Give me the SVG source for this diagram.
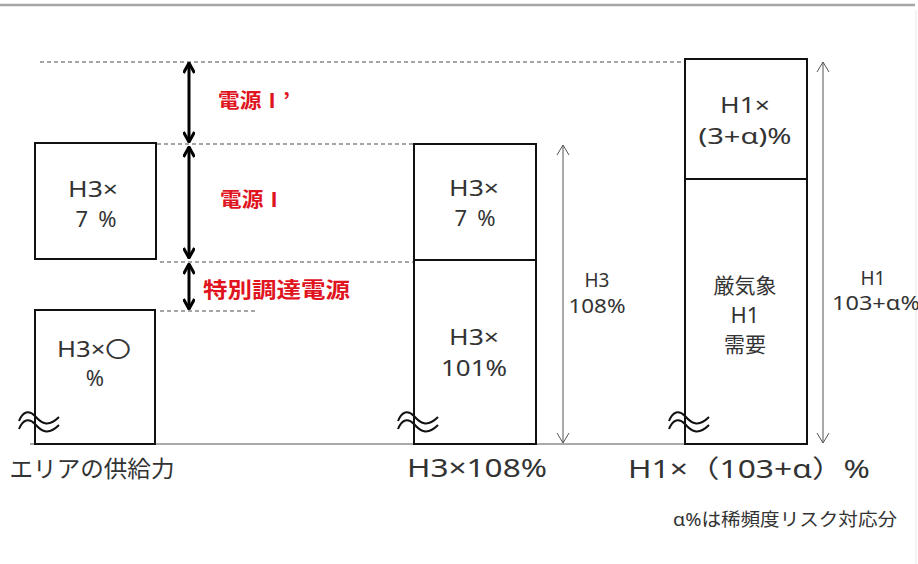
<svg xmlns="http://www.w3.org/2000/svg" width="918" height="564" viewBox="0 0 918 564">
<defs>
<style>
.box{fill:#fff;stroke:#111;stroke-width:2}
.dash{stroke:#888;stroke-width:1.3;stroke-dasharray:4 3;fill:none}
.base{stroke:#8c8c8c;stroke-width:1.5;fill:none}
.big{stroke:#000;stroke-width:3;fill:none}
.thin{stroke:#555;stroke-width:1;fill:none}
.wave{stroke:#111;stroke-width:2;fill:none}
.t{font-family:"Noto Sans","Noto Sans CJK JP",sans-serif;fill:#333;text-anchor:middle}
.red{font-family:"Noto Sans CJK JP",sans-serif;fill:#e0141e;font-weight:bold}
</style>
<marker id="hb" viewBox="0 0 12 12" refX="11" refY="6" markerWidth="12" markerHeight="12" markerUnits="userSpaceOnUse" orient="auto-start-reverse">
<polyline points="1,0.5 11,6 1,11.5" fill="none" stroke="#000" stroke-width="3"/>
</marker>
<marker id="ht" viewBox="0 0 12 14" refX="11" refY="7" markerWidth="12" markerHeight="14" markerUnits="userSpaceOnUse" orient="auto-start-reverse">
<polyline points="1,1 11,7 1,13" fill="none" stroke="#555" stroke-width="1"/>
</marker>
</defs>
<rect x="0" y="0" width="918" height="564" fill="#fff"/>
<line x1="0" y1="5" x2="915" y2="5" stroke="#a6a6a6" stroke-width="2.5"/>
<line x1="916" y1="10" x2="916" y2="564" stroke="#e8e8e8" stroke-width="1"/>

<g id="guides">
<line class="dash" x1="40" y1="62" x2="685" y2="62"/>
<line class="dash" x1="157" y1="144" x2="414" y2="144"/>
<line class="dash" x1="160" y1="262" x2="430" y2="262"/>
<line class="dash" x1="160" y1="311" x2="255" y2="311"/>
<line class="base" x1="30" y1="444" x2="685" y2="444"/>
</g>

<g id="connectors">
<line class="big" x1="189" y1="63" x2="189" y2="142" marker-start="url(#hb)" marker-end="url(#hb)"/>
<line class="big" x1="189" y1="147" x2="189" y2="258" marker-start="url(#hb)" marker-end="url(#hb)"/>
<line class="big" x1="189" y1="264" x2="189" y2="309" marker-start="url(#hb)" marker-end="url(#hb)"/>
<line class="thin" x1="563" y1="145" x2="563" y2="443" marker-start="url(#ht)" marker-end="url(#ht)"/>
<line class="thin" x1="823" y1="62" x2="823" y2="443" marker-start="url(#ht)" marker-end="url(#ht)"/>
</g>

<g id="left-top">
<rect class="box" x="35" y="143" width="121" height="116"/>
<text class="t" x="93" y="197" font-size="22" textLength="50" lengthAdjust="spacingAndGlyphs">H3×</text>
<text class="t" x="96" y="227" font-size="22" textLength="41" lengthAdjust="spacing">7 %</text>
</g>
<g id="left-bottom">
<rect class="box" x="35" y="310" width="120" height="134"/>
<text class="t" x="94" y="357" font-size="22" textLength="74" lengthAdjust="spacingAndGlyphs">H3×〇</text>
<text class="t" x="95" y="386" font-size="22">%</text>
</g>
<g id="mid-top">
<rect class="box" x="414" y="144" width="122" height="116"/>
<text class="t" x="474" y="196" font-size="22" textLength="50" lengthAdjust="spacingAndGlyphs">H3×</text>
<text class="t" x="475" y="226" font-size="22" textLength="41" lengthAdjust="spacing">7 %</text>
</g>
<g id="mid-bottom">
<rect class="box" x="414" y="260" width="122" height="184"/>
<text class="t" x="474" y="345" font-size="22" textLength="50" lengthAdjust="spacingAndGlyphs">H3×</text>
<text class="t" x="474" y="376" font-size="22" textLength="66" lengthAdjust="spacingAndGlyphs">101%</text>
</g>
<g id="right-top">
<rect class="box" x="685" y="59" width="122" height="120"/>
<text class="t" x="745" y="113" font-size="22" textLength="50" lengthAdjust="spacingAndGlyphs">H1×</text>
<text class="t" x="745" y="144" font-size="22" textLength="93" lengthAdjust="spacingAndGlyphs">(3+α)%</text>
</g>
<g id="right-bottom">
<rect class="box" x="685" y="179" width="122" height="265"/>
<text class="t" x="745" y="293" font-size="21">厳気象</text>
<text class="t" x="745" y="323" font-size="22">H1</text>
<text class="t" x="745" y="352" font-size="21">需要</text>
</g>

<g id="waves">
<path class="wave" d="M19,421 C23,411 29,410 35,416 C41,423 48,428 59,417"/>
<path class="wave" d="M19,429 C23,419 29,418 35,424 C41,431 48,436 59,425"/>
<path class="wave" d="M398,421 C402,411 408,410 414,416 C420,423 427,428 438,417"/>
<path class="wave" d="M398,429 C402,419 408,418 414,424 C420,431 427,436 438,425"/>
<path class="wave" d="M669,421 C673,411 679,410 685,416 C691,423 698,428 709,417"/>
<path class="wave" d="M669,429 C673,419 679,418 685,424 C691,431 698,436 709,425"/>
</g>

<g id="labels">
<text class="red" x="218" y="108" font-size="20" textLength="72" lengthAdjust="spacingAndGlyphs">電源Ⅰ’</text>
<text class="red" x="220" y="207" font-size="20" textLength="65" lengthAdjust="spacingAndGlyphs">電源Ⅰ</text>
<text class="red" x="203" y="297" font-size="21" textLength="147" lengthAdjust="spacingAndGlyphs">特別調達電源</text>
<text class="t" x="597" y="287" font-size="19">H3</text>
<text class="t" x="597" y="313" font-size="19" textLength="57" lengthAdjust="spacingAndGlyphs">108%</text>
<text class="t" x="873" y="285" font-size="19">H1</text>
<text class="t" x="876" y="310" font-size="19" textLength="88" lengthAdjust="spacingAndGlyphs">103+α%</text>
<text class="t" x="92" y="477" font-size="23" textLength="165" lengthAdjust="spacingAndGlyphs">エリアの供給力</text>
<text class="t" x="477" y="477" font-size="25" textLength="140" lengthAdjust="spacingAndGlyphs">H3×108%</text>
<text class="t" x="749" y="478" font-size="25" textLength="242" lengthAdjust="spacingAndGlyphs">H1×（103+α）%</text>
<text class="t" x="785" y="526" font-size="18" textLength="224" lengthAdjust="spacingAndGlyphs">α%は稀頻度リスク対応分</text>
</g>
</svg>
